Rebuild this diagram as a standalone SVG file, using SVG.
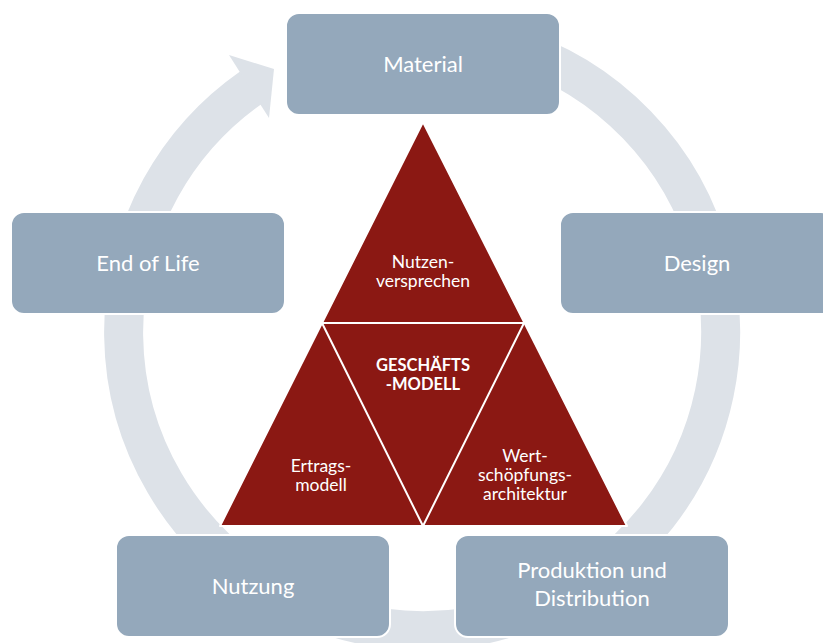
<svg xmlns="http://www.w3.org/2000/svg" width="823" height="643" viewBox="0 0 823 643">
  <style>
    .box { fill: #94a8bb; stroke: #ffffff; stroke-width: 2; }
    .boxtxt { font-family: Lato, "Open Sans", "Liberation Sans", sans-serif; font-size: 22px; fill: #ffffff; text-anchor: middle; }
    .tri { fill: #8b1813; stroke: #ffffff; stroke-width: 2; stroke-linejoin: round; }
    .tritxt { font-family: Lato, "Open Sans", "Liberation Sans", sans-serif; font-size: 17.5px; fill: #ffffff; text-anchor: middle; }
    .bold { font-weight: bold; font-size: 16.5px; }
    .ring { fill: none; stroke: #dde2e8; stroke-width: 39; }
    .head { fill: #dde2e8; }
  </style>
  <rect width="823" height="643" fill="#ffffff"/>

  <g id="connectors">
    <path class="ring" d="M 371.2 38.0 A 298.5 298.5 0 1 1 251.2 87.4"/>
    <polygon class="head" points="229,55 274,69 269,118"/>
  </g>

  <g id="triangle">
    <polygon class="tri" points="423,122 220,526 627,526"/>
    <polyline points="322,323 524,323 423,526 322,323" fill="none" stroke="#ffffff" stroke-width="2" stroke-linejoin="round"/>
    <text class="tritxt" x="423" y="268.3">Nutzen-</text>
    <text class="tritxt" x="423" y="287.3">versprechen</text>
    <text class="tritxt bold" x="423" y="370.7">GESCHÄFTS</text>
    <text class="tritxt bold" x="423" y="390">-MODELL</text>
    <text class="tritxt" x="321" y="471.7">Ertrags-</text>
    <text class="tritxt" x="321" y="490.7">modell</text>
    <text class="tritxt" x="525" y="461.7">Wert-</text>
    <text class="tritxt" x="525" y="480.7">schöpfungs-</text>
    <text class="tritxt" x="525" y="500">architektur</text>
  </g>

  <g id="material">
    <rect class="box" x="286" y="13" width="274" height="102" rx="13"/>
    <text class="boxtxt" x="423" y="71.5">Material</text>
  </g>
  <g id="design">
    <rect class="box" x="560" y="212" width="274" height="102" rx="13"/>
    <text class="boxtxt" x="697" y="271">Design</text>
  </g>
  <g id="produktion">
    <rect class="box" x="455" y="535" width="274" height="102" rx="13"/>
    <text class="boxtxt" x="592" y="578">Produktion und</text>
    <text class="boxtxt" x="592" y="605.5">Distribution</text>
  </g>
  <g id="nutzung">
    <rect class="box" x="116" y="535" width="274" height="102" rx="13"/>
    <text class="boxtxt" x="253" y="593.5">Nutzung</text>
  </g>
  <g id="endoflife">
    <rect class="box" x="11" y="212" width="274" height="102" rx="13"/>
    <text class="boxtxt" x="148" y="271">End of Life</text>
  </g>
</svg>
